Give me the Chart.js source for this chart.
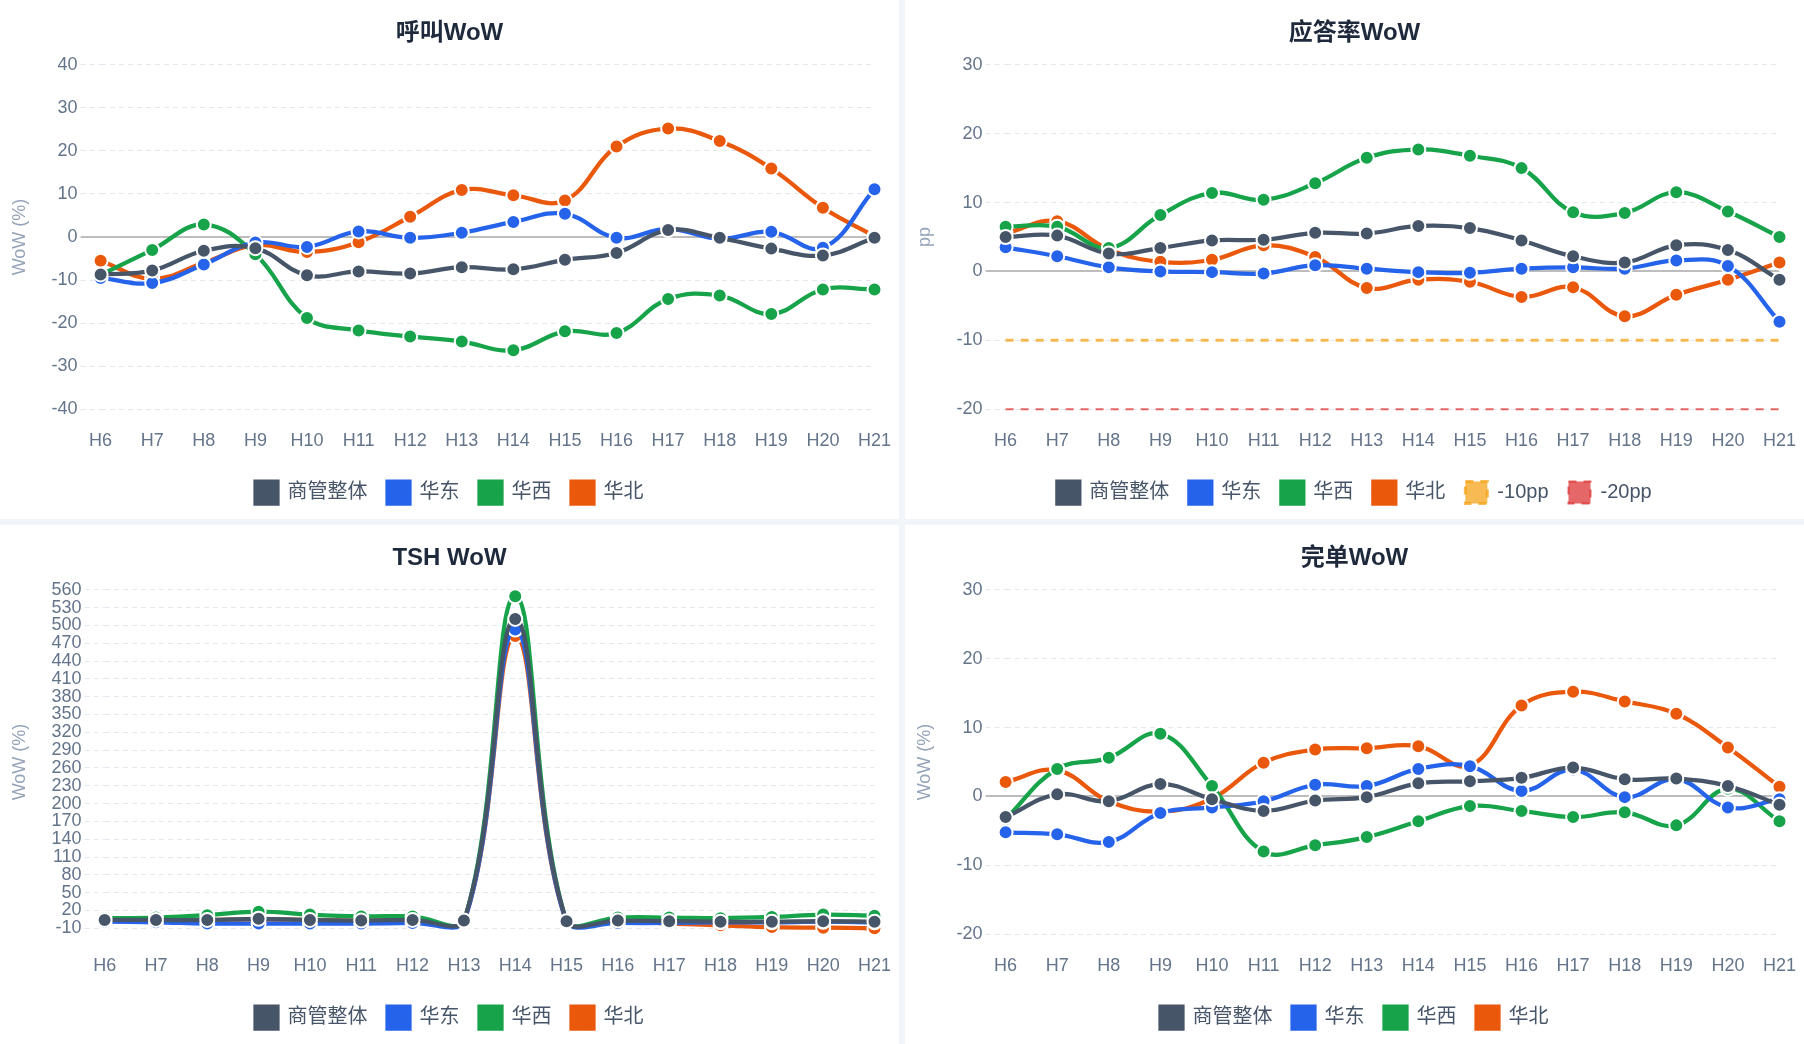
<!DOCTYPE html>
<html lang="zh-CN">
<head>
<meta charset="utf-8">
<title>WoW 看板</title>
<script src="https://cdn.jsdelivr.net/npm/chart.js@4.4.1/dist/chart.umd.min.js"></script>
<style>
  html, body { margin: 0; padding: 0; background: #f1f5f9; }
  .board {
    display: grid;
    grid-template-columns: 1fr 1fr;
    grid-template-rows: 1fr 1fr;
    gap: 6px;
    width: 1804px;
    height: 1044px;
  }
  .panel { background: #fff; position: relative; }
  .panel canvas { display: block; }
</style>
</head>
<body>
<div class="board">
  <div class="panel"><canvas id="callChart"></canvas></div>
  <div class="panel"><canvas id="answerChart"></canvas></div>
  <div class="panel"><canvas id="tshChart"></canvas></div>
  <div class="panel"><canvas id="doneChart"></canvas></div>
</div>
<script>
// 小时分段
const hours = ['H6', 'H7', 'H8', 'H9', 'H10', 'H11', 'H12', 'H13', 'H14', 'H15', 'H16', 'H17', 'H18', 'H19', 'H20', 'H21'];
const seriesNames = ['商管整体', '华东', '华西', '华北'];
const seriesColors = ['#475569', '#2563eb', '#16a34a', '#ea580c'];

// 呼叫WoW (%)
const callTotal = [-8.7, -7.8, -3.2, -2.6, -8.9, -8.0, -8.5, -7.0, -7.5, -5.3, -3.7, 1.6, -0.2, -2.7, -4.3, -0.2];
const callEast  = [-9.5, -10.7, -6.4, -1.3, -2.3, 1.3, -0.2, 1.0, 3.5, 5.4, -0.2, 1.9, -0.4, 1.2, -2.5, 11.1];
const callWest  = [-8.8, -3.0, 2.9, -4.0, -18.8, -21.7, -23.1, -24.3, -26.3, -21.9, -22.3, -14.4, -13.6, -17.9, -12.2, -12.2];
const callNorth = [-5.5, -9.7, -6.0, -1.9, -3.5, -1.2, 4.7, 10.9, 9.7, 8.5, 21.0, 25.2, 22.3, 15.9, 6.8, 0.2];
const callAxis  = [-40, 40, 10]; // min, max, step

// 应答率WoW (pp)
const answerTotal = [5.0, 5.2, 2.6, 3.4, 4.5, 4.6, 5.6, 5.5, 6.6, 6.3, 4.5, 2.2, 1.3, 3.8, 3.1, -1.2];
const answerEast  = [3.5, 2.2, 0.6, 0.0, -0.1, -0.3, 0.9, 0.4, -0.1, -0.2, 0.4, 0.6, 0.4, 1.6, 0.8, -7.3];
const answerWest  = [6.5, 6.5, 3.4, 8.2, 11.4, 10.4, 12.8, 16.5, 17.7, 16.8, 15.0, 8.6, 8.5, 11.5, 8.7, 5.0];
const answerNorth = [5.5, 7.3, 3.2, 1.4, 1.7, 3.8, 2.1, -2.4, -1.2, -1.5, -3.7, -2.3, -6.5, -3.4, -1.2, 1.3];
const answerAxis  = [-20, 30, 10];
const thresholdNames  = ['-10pp', '-20pp'];
const thresholdValues = [-10, -20];
const thresholdColors = ['rgba(245, 158, 11, 0.7)', 'rgba(220, 38, 38, 0.7)'];

// TSH WoW (%)
const tshTotal = [4, 4, 4, 6, 4, 3, 4, 3, 511, 2, 3, 2, 1, 1, 2, 1];
const tshEast  = [1, 0, -2, -2, -2, -2, -1, 0, 493, 0, -1, -1, 0, 0, 1, 0];
const tshWest  = [7, 8, 12, 18, 13, 10, 10, 1, 549, 1, 8, 8, 7, 9, 13, 11];
const tshNorth = [4, 4, 4, 5, 4, 3, 4, 2, 482, 1, 2, -2, -5, -8, -9, -10];
const tshAxis  = [-20, 560, 30];
const tshTicks = [-10, 20, 50, 80, 110, 140, 170, 200, 230, 260, 290, 320, 350, 380, 410, 440, 470, 500, 530, 560];

// 完单WoW (%)
const doneTotal = [-3.0, 0.3, -0.7, 1.8, -0.4, -2.1, -0.6, -0.1, 1.9, 2.2, 2.7, 4.2, 2.5, 2.6, 1.5, -1.2];
const doneEast  = [-5.2, -5.5, -6.6, -2.4, -1.6, -0.7, 1.7, 1.5, 4.0, 4.4, 0.8, 3.9, -0.1, 2.5, -1.6, -0.4];
const doneWest  = [-3.3, 4.0, 5.6, 9.1, 1.5, -8.0, -7.1, -5.9, -3.6, -1.4, -2.1, -3.0, -2.3, -4.2, 1.1, -3.6];
const doneNorth = [2.1, 3.8, -0.7, -2.2, -0.3, 4.9, 6.8, 7.0, 7.3, 4.5, 13.2, 15.2, 13.8, 12.0, 7.1, 1.4];
const doneAxis  = [-20, 30, 10];

Chart.defaults.font.family = "'Liberation Sans', Arial, 'Noto Sans CJK SC', sans-serif";

const isZero = c => c.tick && c.tick.value === 0;

function seriesDatasets(values) {
    return values.map((arr, i) => ({
        label: seriesNames[i],
        data: arr,
        borderColor: seriesColors[i],
        backgroundColor: seriesColors[i],
        borderWidth: 4.25,
        tension: 0.4,
        pointRadius: 7,
        pointBorderWidth: 2,
        pointBorderColor: '#ffffff',
        pointBackgroundColor: seriesColors[i],
        clip: false
    }));
}

function makeChart(id, title, yTitle, axis, datasets, fixedTicks) {
    const ctx = document.getElementById(id).getContext('2d');
    const yScale = {
        min: axis[0],
        max: axis[1],
        ticks: { stepSize: axis[2], color: '#64748b', font: { size: 18, lineHeight: 1 }, padding: 3, autoSkip: false },
        title: {
            display: true,
            text: yTitle,
            color: '#94a3b8',
            font: { size: 18 },
            padding: { top: 0, bottom: 18 }
        },
        grid: {
            color: c => isZero(c) ? '#bdbdbd' : '#e2e8f0',
            lineWidth: c => isZero(c) ? 2 : 1,
            tickLength: 20,
            tickBorderDash: c => isZero(c) ? [] : [5, 4]
        },
        border: { display: false, dash: c => isZero(c) ? [] : [5, 4] }
    };
    if (fixedTicks) {
        // 固定刻度（TSH 图从 -10 开始，每 30 一格）
        yScale.afterBuildTicks = scale => {
            scale.ticks = fixedTicks.map(v => ({ value: v }));
        };
    }
    return new Chart(ctx, {
        type: 'line',
        data: { labels: hours, datasets: datasets },
        options: {
            responsive: true,
            maintainAspectRatio: false,
            animation: false,
            layout: { padding: { top: 6, left: 9, right: 9, bottom: 5.5 } },
            plugins: {
                title: {
                    display: true,
                    text: title,
                    color: '#1e293b',
                    font: { size: 24, weight: 'bold' },
                    padding: { top: 13, bottom: 17 }
                },
                legend: {
                    position: 'bottom',
                    labels: {
                        boxWidth: 22,
                        boxHeight: 22,
                        padding: 20,
                        color: '#475569',
                        font: { size: 20 }
                    }
                },
                tooltip: { enabled: false }
            },
            scales: {
                x: {
                    grid: { display: false, drawTicks: true, tickLength: 12 },
                    border: { display: false },
                    ticks: { color: '#64748b', font: { size: 18, lineHeight: 1.35 }, padding: 8, maxRotation: 0, autoSkip: false }
                },
                y: yScale
            }
        }
    });
}

makeChart('callChart', '呼叫WoW', 'WoW (%)', callAxis,
    seriesDatasets([callTotal, callEast, callWest, callNorth]));

const answerSets = seriesDatasets([answerTotal, answerEast, answerWest, answerNorth]);
thresholdValues.forEach((v, i) => {
    answerSets.push({
        label: thresholdNames[i],
        data: hours.map(() => v),
        borderColor: thresholdColors[i],
        backgroundColor: thresholdColors[i],
        borderWidth: i === 0 ? 3 : 2,
        borderDash: [8, 7],
        pointRadius: 0,
        tension: 0,
        clip: false
    });
});
makeChart('answerChart', '应答率WoW', 'pp', answerAxis, answerSets);

makeChart('tshChart', 'TSH WoW', 'WoW (%)', tshAxis,
    seriesDatasets([tshTotal, tshEast, tshWest, tshNorth]), tshTicks);

makeChart('doneChart', '完单WoW', 'WoW (%)', doneAxis,
    seriesDatasets([doneTotal, doneEast, doneWest, doneNorth]));
</script>
</body>
</html>
